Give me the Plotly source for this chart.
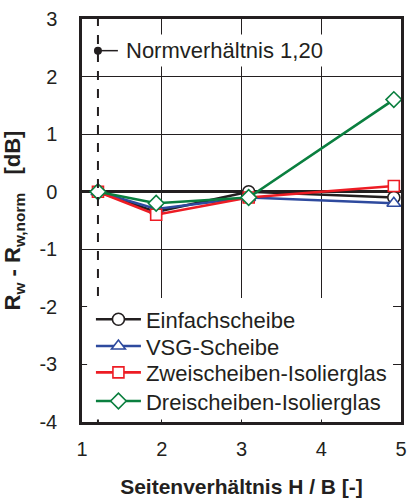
import plotly.graph_objects as go

# Data
ratios = [1.2, 1.93, 3.09, 4.91]
einfach = [0.0, -0.35, 0.0, -0.1]
vsg = [0.0, -0.3, -0.1, -0.2]
zweischeiben = [0.0, -0.4, -0.1, 0.1]
dreischeiben = [0.0, -0.2, -0.1, 1.6]
series_names = ["Einfachscheibe", "VSG-Scheibe", "Zweischeiben-Isolierglas", "Dreischeiben-Isolierglas"]
x_ticks = [1, 2, 3, 4, 5]
y_ticks = [-4, -3, -2, -1, 0, 1, 2, 3]
norm_ratio = 1.2
norm_label = "Normverhältnis 1,20"
norm_label_y = 2.45

FONT = "Arial, Liberation Sans, sans-serif"
INK = "#231f20"

colors = [INK, "#2e4a9e", "#ed1c24", "#0a7f3f"]
symbols = ["circle", "triangle-up", "square", "diamond"]
sizes = [12, 12, 11, 12]
legend_ids = ["legend", "legend2", "legend3", "legend4"]
legend_y = [0.2545, 0.188, 0.1226, 0.0516]

fig = go.Figure()
for name, vals, c, s, sz, lg in zip(series_names, [einfach, vsg, zweischeiben, dreischeiben],
                                     colors, symbols, sizes, legend_ids):
    fig.add_trace(go.Scatter(
        x=ratios, y=vals, name=name, mode="lines+markers", legend=lg,
        line=dict(color=c, width=2.6),
        marker=dict(symbol=s, size=sz, color="white", line=dict(color=c, width=1.6)),
    ))

# dashed norm line
fig.add_shape(type="line", x0=norm_ratio, x1=norm_ratio, y0=-4, y1=3, xref="x", yref="y",
              line=dict(color=INK, width=2, dash="dash"), layer="above")
# white background behind the legend block
fig.add_shape(type="rect", x0=0.016, x1=0.975, y0=0.006, y1=0.308, xref="paper", yref="paper",
              fillcolor="white", line=dict(width=0), layer="above")
# label leader line with dot
fig.add_shape(type="line", x0=norm_ratio, x1=norm_ratio + 0.25, y0=norm_label_y, y1=norm_label_y,
              xref="x", yref="y", line=dict(color=INK, width=1.5), layer="above")
fig.add_trace(go.Scatter(x=[norm_ratio], y=[norm_label_y], mode="markers", showlegend=False,
                         marker=dict(color=INK, size=8), hoverinfo="skip"))
fig.add_annotation(x=norm_ratio + 0.3, y=norm_label_y, xref="x", yref="y", text=norm_label,
                   showarrow=False, xanchor="left", yanchor="middle",
                   font=dict(family=FONT, size=22, color=INK),
                   bgcolor="white", borderpad=3)

legend_layout = {}
for lg, ly in zip(legend_ids, legend_y):
    legend_layout[lg] = dict(x=0.028, y=ly, xanchor="left", yanchor="middle", bgcolor="rgba(0,0,0,0)",
                             font=dict(family=FONT, size=22, color=INK), borderwidth=0,
                             itemwidth=45)

fig.update_layout(
    width=409, height=498,
    margin=dict(l=82, r=8, t=19, b=76),
    plot_bgcolor="white", paper_bgcolor="white",
    font=dict(family=FONT, size=20, color=INK),
    showlegend=True,
    **legend_layout,
)
fig.update_xaxes(range=[1, 5], tickvals=x_ticks, ticktext=[str(v) for v in x_ticks],
                 showgrid=True, gridcolor=INK, gridwidth=1, zeroline=False,
                 showline=True, linecolor=INK, linewidth=2.5, mirror=True,
                 ticks="", ticklabelstandoff=7, automargin=False,
                 title=dict(text="<b>Seitenverhältnis H / B [-]</b>", standoff=22,
                            font=dict(family=FONT, size=21, color=INK)))
fig.update_yaxes(range=[-4, 3], tickvals=y_ticks, ticktext=[str(v) for v in y_ticks],
                 showgrid=True, gridcolor=INK, gridwidth=1,
                 zeroline=True, zerolinecolor=INK, zerolinewidth=3,
                 showline=True, linecolor=INK, linewidth=2.5, mirror=True,
                 ticks="", ticklabelstandoff=18, automargin=False,
                 title=dict(text="<b>R<sub>w</sub> - R<sub>w,norm</sub>\u00a0\u00a0\u00a0[dB]</b>", standoff=14,
                            font=dict(family=FONT, size=22, color=INK)))

fig.write_html("out.html", config={"displayModeBar": False},
               post_script="document.body.style.margin='0';document.body.style.overflow='hidden';")
